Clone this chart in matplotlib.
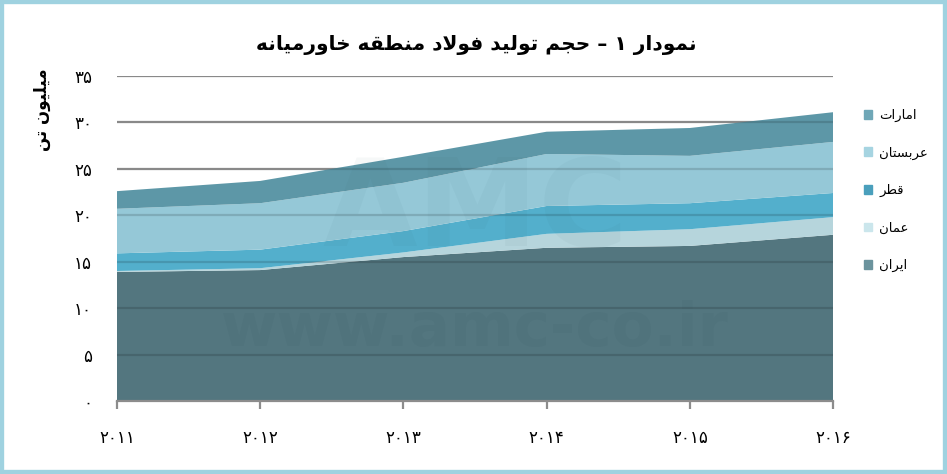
import matplotlib.pyplot as plt
import matplotlib.patches as mpatches
import numpy as np

# data (million tonnes)
years = ['۲۰۱۱', '۲۰۱۲', '۲۰۱۳', '۲۰۱۴', '۲۰۱۵', '۲۰۱۶']
iran = [13.9, 14.1, 15.5, 16.5, 16.7, 17.9]
oman = [0.1, 0.2, 0.5, 1.5, 1.8, 1.9]
qatar = [1.9, 2.0, 2.3, 3.0, 2.8, 2.6]
saudi = [4.8, 5.0, 5.2, 5.6, 5.1, 5.5]
uae = [1.9, 2.4, 2.8, 2.4, 3.0, 3.2]
series_names = ['ایران', 'عمان', 'قطر', 'عربستان', 'امارات']
yticks = [0, 5, 10, 15, 20, 25, 30, 35]

colors = ['#53767f', '#b6d5dc', '#53afcc', '#95c8d7', '#5d97a7']
legend_colors = ['#6b939d', '#cbe6ec', '#4a9fbc', '#a6d4e1', '#6fa7b7']

# --- minimal Persian shaping (matplotlib has no complex text layout) ---
FORMS = {
    'ا': (0xFE8D, 0xFE8E, None, None),
    'ب': (0xFE8F, 0xFE90, 0xFE91, 0xFE92),
    'ت': (0xFE95, 0xFE96, 0xFE97, 0xFE98),
    'ج': (0xFE9D, 0xFE9E, 0xFE9F, 0xFEA0),
    'ح': (0xFEA1, 0xFEA2, 0xFEA3, 0xFEA4),
    'خ': (0xFEA5, 0xFEA6, 0xFEA7, 0xFEA8),
    'د': (0xFEA9, 0xFEAA, None, None),
    'ر': (0xFEAD, 0xFEAE, None, None),
    'س': (0xFEB1, 0xFEB2, 0xFEB3, 0xFEB4),
    'ط': (0xFEC1, 0xFEC2, 0xFEC3, 0xFEC4),
    'ع': (0xFEC9, 0xFECA, 0xFECB, 0xFECC),
    'ف': (0xFED1, 0xFED2, 0xFED3, 0xFED4),
    'ق': (0xFED5, 0xFED6, 0xFED7, 0xFED8),
    'ل': (0xFEDD, 0xFEDE, 0xFEDF, 0xFEE0),
    'م': (0xFEE1, 0xFEE2, 0xFEE3, 0xFEE4),
    'ن': (0xFEE5, 0xFEE6, 0xFEE7, 0xFEE8),
    'ه': (0xFEE9, 0xFEEA, 0xFEEB, 0xFEEC),
    'و': (0xFEED, 0xFEEE, None, None),
    'ی': (0xFBFC, 0xFBFD, 0xFBFE, 0xFBFF),
}


def shape_word(word):
    # lam + alef ligature first
    chars = []
    i = 0
    while i < len(word):
        if word[i] == 'ل' and i + 1 < len(word) and word[i + 1] == 'ا':
            chars.append('لا')
            i += 2
        else:
            chars.append(word[i])
            i += 1

    def joins_next(c):
        if c == 'لا':
            return False
        return c in FORMS and FORMS[c][2] is not None

    out = []
    for k, c in enumerate(chars):
        prev_joins = k > 0 and joins_next(chars[k - 1])
        if c == 'لا':
            out.append(chr(0xFEFC if prev_joins else 0xFEFB))
            continue
        if c not in FORMS:
            out.append(c)
            continue
        nxt = chars[k + 1] if k + 1 < len(chars) else None
        next_ok = nxt is not None and (nxt in FORMS or nxt == 'لا') and joins_next(c)
        iso, fin, ini, med = FORMS[c]
        if prev_joins and next_ok:
            out.append(chr(med))
        elif prev_joins:
            out.append(chr(fin))
        elif next_ok:
            out.append(chr(ini))
        else:
            out.append(chr(iso))
    return ''.join(reversed(out))


def fa(text):
    words = text.split(' ')
    return ' '.join(shape_word(w) for w in reversed(words))


plt.rcParams['font.family'] = ['DejaVu Sans']

fig = plt.figure(figsize=(9.47, 4.74), dpi=100)
ax = fig.add_axes([117 / 947, 1 - 401 / 474, (833 - 117) / 947, (401 - 76) / 474])

x = np.arange(len(years))
data = [iran, oman, qatar, saudi, uae]

# grid under the areas
for v in yticks[1:]:
    ax.axhline(v, color='#a0a0a0', lw=1.6, zorder=0)

ax.stackplot(x, *data, colors=colors, zorder=2, lw=0)

# grid over the areas (darkens where covered)
for v in yticks[1:]:
    ax.axhline(v, color='black', alpha=0.14, lw=1.6, zorder=3)

# faint watermark
ax.text(0.5, 0.58, 'AMC', transform=ax.transAxes, ha='center', va='center',
        fontsize=88, fontweight='bold', color='#2b4e58', alpha=0.04, zorder=4)
ax.text(0.5, 0.22, 'www.amc-co.ir', transform=ax.transAxes, ha='center', va='center',
        fontsize=44, fontweight='bold', color='#2b4e58', alpha=0.07, zorder=4)

ax.set_xlim(0, 5)
ax.set_ylim(0, 35)
ax.set_xticks(x)
ax.set_xticklabels(years, fontsize=12)
fa_digits = str.maketrans('0123456789', '۰۱۲۳۴۵۶۷۸۹')
ax.set_yticks(yticks)
ax.set_yticklabels([str(v).translate(fa_digits) for v in yticks], fontsize=12)

for side in ['top', 'right', 'left']:
    ax.spines[side].set_visible(False)
ax.spines['bottom'].set_color('#8c8c8c')
ax.spines['bottom'].set_linewidth(1.6)
ax.spines['bottom'].set_zorder(5)
ax.tick_params(axis='x', direction='out', length=6, width=1.6, color='#8c8c8c', pad=14)
ax.tick_params(axis='y', length=0, pad=18)

fig.text(476 / 947, 1 - 45 / 474, fa('نمودار ۱ – حجم تولید فولاد منطقه خاورمیانه'),
         ha='center', va='center', fontsize=14.5, fontweight='bold')
fig.text(42 / 947, 1 - 110 / 474, fa('میلیون تن'), rotation=90,
         ha='center', va='center', fontsize=12, fontweight='bold')

# legend, top to bottom: UAE ... Iran
handles = [mpatches.Patch(color=legend_colors[i], label=fa(series_names[i]))
           for i in range(4, -1, -1)]
fig.legend(handles=handles, loc='upper left', bbox_to_anchor=(852 / 947, 1 - 97 / 474),
           frameon=False, fontsize=9.5, handlelength=0.65, handleheight=0.65,
           handletextpad=0.5, labelspacing=1.85)

# light blue frame
fig.patches.append(mpatches.Rectangle((0, 0), 1, 1, transform=fig.transFigure,
                                      fill=False, edgecolor='#9fd2e0', lw=6))

plt.savefig('out.png', dpi=100)
